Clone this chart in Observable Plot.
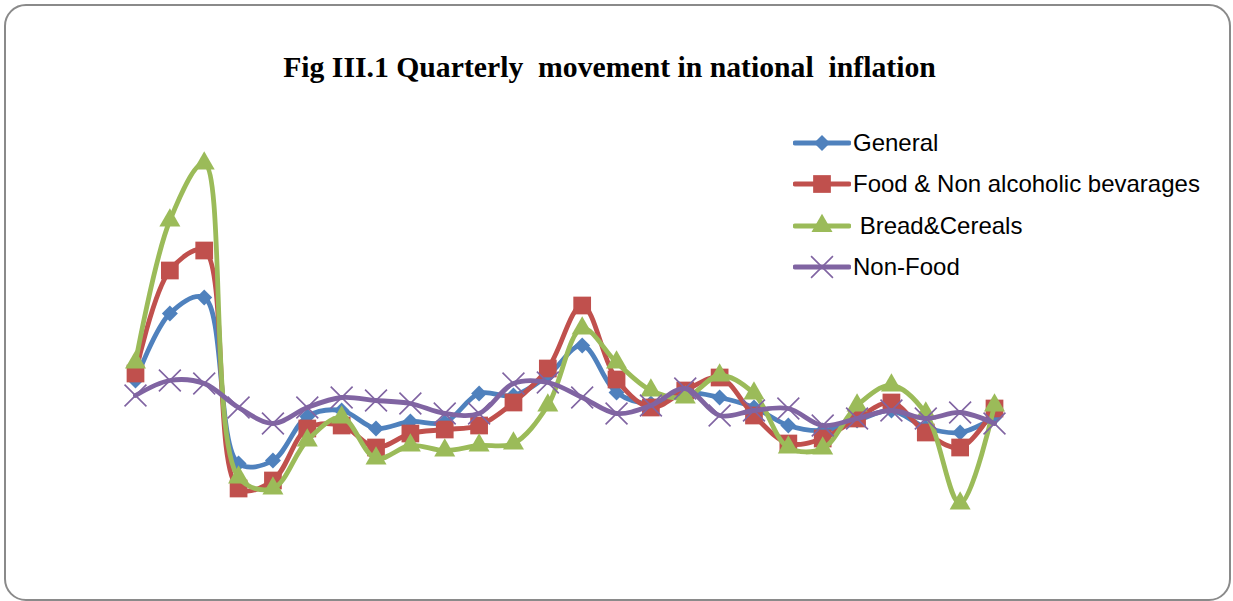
<!DOCTYPE html>
<html>
<head>
<meta charset="utf-8">
<script src="https://cdn.jsdelivr.net/npm/d3@7"></script>
<script src="https://cdn.jsdelivr.net/npm/@observablehq/plot@0.6"></script>
<style>
  html, body { margin: 0; padding: 0; background: #fff; width: 1233px; height: 601px; overflow: hidden; }
  #frame { position: absolute; left: 4px; top: 4px; width: 1227px; height: 597px; box-sizing: border-box;
           border: 2px solid #8a8a8a; border-radius: 22px; }
  #title { position: absolute; left: -7px; width: 1233px; top: 50px; text-align: center;
           font-family: "Liberation Serif", serif; font-weight: bold; font-size: 30px; white-space: pre; color: #000;
           transform: scaleX(0.99); transform-origin: 616px 0; }
  #chart { position: absolute; left: 0; top: 0; }
  #legend { position: absolute; left: 793px; top: 128px; font-family: "Liberation Sans", Arial, sans-serif; font-size: 24px; color: #000; }
  .item { position: absolute; left: 0; height: 30px; display: flex; align-items: center; white-space: pre; }
  .item svg { display: block; margin-right: 2px; }
</style>
</head>
<body>
<div id="frame"></div>
<div id="title">Fig III.1 Quarterly  movement in national  inflation</div>
<div id="chart"></div>
<div id="legend"></div>
<script>
// Quarter index (no axis labels shown in the original)
const quarters = d3.range(26);

// Series values (arbitrary % units)
const general = [6.0, 12.7, 14.3, -2.3, -2.0, 2.4, 3.0, 1.2, 1.9, 1.8, 4.7, 4.5, 6.5, 9.5, 4.8, 3.7, 4.8, 4.3, 3.3, 1.5, 1.0, 2.0, 3.0, 1.3, 0.8, 2.3];
const food    = [6.7, 17.0, 19.0, -4.8, -4.0, 1.2, 1.5, -0.7, 0.7, 1.1, 1.5, 3.8, 7.2, 13.5, 6.1, 3.3, 5.0, 6.3, 2.5, -0.3, 0.2, 2.2, 3.8, 0.8, -0.7, 3.2];
const bread   = [7.8, 22.0, 27.7, -3.7, -4.8, 0.0, 2.3, -1.8, -0.5, -1.0, -0.5, -0.3, 3.5, 11.2, 7.8, 5.0, 4.3, 6.5, 4.7, -0.7, -0.8, 3.5, 5.5, 2.7, -6.3, 3.5];
const nonFood = [4.5, 6.0, 5.7, 3.3, 1.7, 3.3, 4.3, 4.0, 3.7, 2.7, 2.7, 5.7, 5.8, 4.3, 2.7, 3.5, 5.2, 2.5, 3.0, 3.2, 1.5, 2.2, 3.0, 2.2, 2.8, 1.7];

const seriesNames = ["General", "Food & Non alcoholic bevarages", " Bread&Cereals", "Non-Food"];
const seriesColors = ["#4F81BD", "#C0504D", "#9BBB59", "#8064A2"];
const seriesSymbols = ["diamond2", "square", "triangle", "times"];
const seriesR = [7.2, 10, 7.8, 10];

const allValues = [general, food, bread, nonFood];

const marks = [];
allValues.forEach((vals, i) => {
  const data = quarters.map((q, j) => ({q, v: vals[j]}));
  marks.push(Plot.line(data, {x: "q", y: "v", stroke: seriesColors[i], strokeWidth: 4.8, curve: "catmull-rom"}));
  if (seriesSymbols[i] === "times") {
    marks.push(Plot.dot(data, {x: "q", y: "v", symbol: "times", r: seriesR[i], stroke: seriesColors[i], strokeWidth: 1.6, fill: "none"}));
  } else {
    marks.push(Plot.dot(data, {x: "q", y: "v", symbol: seriesSymbols[i], r: seriesR[i], fill: seriesColors[i], stroke: "none"}));
  }
});

const chart = Plot.plot({
  width: 1233,
  height: 601,
  marginLeft: 135,
  marginRight: 239,
  marginTop: 140,
  marginBottom: 61,
  x: {domain: [0, 25], axis: null},
  y: {domain: [-10, 30], axis: null},
  style: {background: "transparent", overflow: "visible"},
  marks
});
document.getElementById("chart").appendChild(chart);

// Legend
const legend = document.getElementById("legend");
const legendTops = [0, 41, 83, 124];
seriesNames.forEach((name, i) => {
  const item = document.createElement("div");
  item.className = "item";
  item.style.top = legendTops[i] + "px";
  const svg = d3.create("svg").attr("width", 58).attr("height", 30);
  svg.append("line").attr("x1", 2).attr("x2", 56).attr("y1", 15).attr("y2", 15)
    .attr("stroke", seriesColors[i]).attr("stroke-width", 4.8).attr("stroke-linecap", "round");
  const symMap = {diamond2: d3.symbolDiamond2, square: d3.symbolSquare, triangle: d3.symbolTriangle, times: d3.symbolTimes};
  const size = Math.PI * seriesR[i] * seriesR[i];
  const p = svg.append("path").attr("transform", "translate(29,15)").attr("d", d3.symbol(symMap[seriesSymbols[i]], size)());
  if (seriesSymbols[i] === "times") p.attr("fill", "none").attr("stroke", seriesColors[i]).attr("stroke-width", 1.6);
  else p.attr("fill", seriesColors[i]);
  item.appendChild(svg.node());
  const span = document.createElement("span");
  span.textContent = name;
  item.appendChild(span);
  legend.appendChild(item);
});
</script>
</body>
</html>
